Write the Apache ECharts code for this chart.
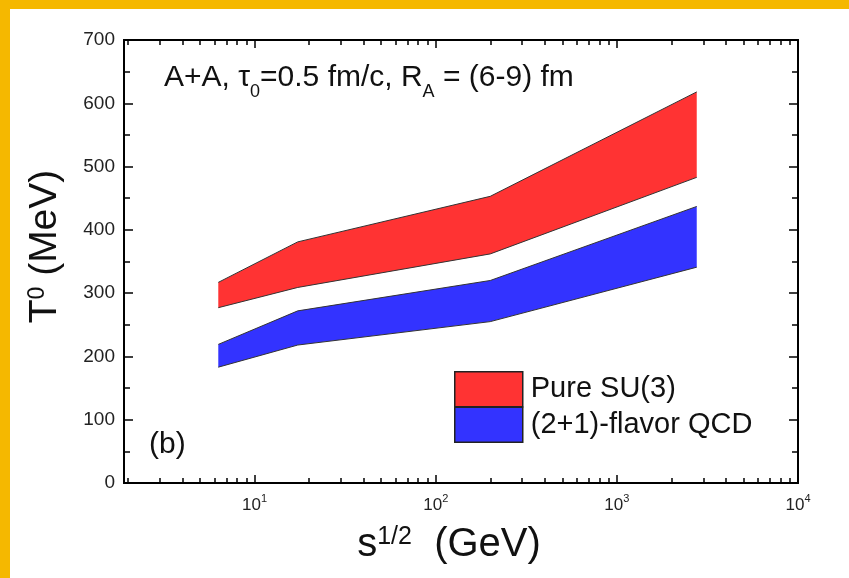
<!DOCTYPE html>
<html>
<head>
<meta charset="utf-8">
<script src="https://cdn.jsdelivr.net/npm/echarts@6/dist/echarts.min.js"></script>
<style>
html,body{margin:0;padding:0;background:#fff;}
#chart{width:849px;height:578px;}
</style>
</head>
<body>
<div id="chart"></div>
<script>
// ---- data ----
const energies = [6.3, 17.3, 200, 2760];          // sqrt(s) in GeV
const su3Upper = [317, 381, 453, 618];            // Pure SU(3) band, upper edge (MeV)
const su3Lower = [277, 309, 362, 483];            // Pure SU(3) band, lower edge
const qcdUpper = [219, 272, 320, 437];            // (2+1)-flavor QCD band, upper edge
const qcdLower = [183, 218, 255, 341];            // (2+1)-flavor QCD band, lower edge
const xMajorTicks = [10, 100, 1000, 10000];
const xMinorTicks = [2,3,4,5,6,7,8,9,20,30,40,50,60,70,80,90,200,300,400,500,600,700,800,900,2000,3000,4000,5000,6000,7000,8000,9000];
const seriesNames = ['Pure SU(3)', '(2+1)-flavor QCD'];
const seriesColors = ['#FF3333', '#3333FF'];

const FONT = '"Liberation Sans", Arial, Helvetica, sans-serif';
const chart = echarts.init(document.getElementById('chart'));

function band(name, upper, lower, color) {
  return {
    type: 'custom',
    name: name,
    xAxisIndex: 0, yAxisIndex: 0,
    data: energies.map((e, i) => [e, upper[i], lower[i]]),
    encode: {x: 0, y: [1, 2]},
    itemStyle: {color: color},
    silent: true,
    renderItem: function (params, api) {
      if (params.dataIndex !== 0) return null;
      const up = energies.map((e, i) => api.coord([e, upper[i]]));
      const lo = energies.map((e, i) => api.coord([e, lower[i]]));
      const poly = up.concat(lo.slice().reverse());
      return {
        type: 'group',
        children: [
          {type: 'polygon', shape: {points: poly}, style: {fill: color, stroke: null}},
          {type: 'polyline', shape: {points: up}, style: {stroke: '#333', lineWidth: 1, fill: null}},
          {type: 'polyline', shape: {points: lo}, style: {stroke: '#333', lineWidth: 1, fill: null}}
        ]
      };
    }
  };
}

const axisLineStyle = {show: true, lineStyle: {color: '#000', width: 2}};
function xAxisDef(position, ticks, len, withLabels) {
  return {
    type: 'log', logBase: 10, position: position,
    min: 1.9, max: 10000,
    axisLine: axisLineStyle,
    axisTick: {show: true, inside: true, length: len, customValues: ticks, lineStyle: {color: '#000', width: 1.5}},
    axisLabel: withLabels ? {
      show: true, customValues: xMajorTicks, margin: 10,
      formatter: function (v) { return '{m|10}{s|' + Math.round(Math.log10(v)) + '}'; },
      rich: {
        m: {fontFamily: FONT, fontSize: 17, color: '#222', lineHeight: 20, verticalAlign: 'top', padding: [4, 0, 0, 0]},
        s: {fontFamily: FONT, fontSize: 11, color: '#222', lineHeight: 12, verticalAlign: 'top'}
      }
    } : {show: false},
    splitLine: {show: false},
    minorTick: {show: false}
  };
}
function yAxisDef(position, withLabels) {
  return {
    type: 'value', position: position,
    min: 0, max: 700, interval: 100,
    axisLine: axisLineStyle,
    axisTick: {show: true, inside: true, length: 9, lineStyle: {color: '#000', width: 1.5}},
    minorTick: {show: true, splitNumber: 2, length: 6, lineStyle: {color: '#000', width: 1.5}},
    axisLabel: withLabels ? {show: true, margin: 9, fontFamily: FONT, fontSize: 19, color: '#222'} : {show: false},
    splitLine: {show: false}
  };
}

const xAxes = [
  xAxisDef('bottom', xMajorTicks, 8, true),
  xAxisDef('bottom', xMinorTicks, 5, false),
  xAxisDef('top', xMajorTicks, 8, false),
  xAxisDef('top', xMinorTicks, 5, false)
];
xAxes[0].name = '{m|s}{s|1/2}{m|  (GeV)}';
xAxes[0].nameLocation = 'middle';
xAxes[0].nameGap = 42;
xAxes[0].nameTextStyle = {
  padding: [0, 24, 0, 0],
  rich: {
    m: {fontFamily: FONT, fontSize: 40, color: '#111', lineHeight: 46, verticalAlign: 'top'},
    s: {fontFamily: FONT, fontSize: 25, color: '#111', lineHeight: 26, verticalAlign: 'top'}
  }
};
const yAxes = [yAxisDef('left', true), yAxisDef('right', false)];
yAxes[0].name = '{m|T}{s|0}{m| (MeV)}';
yAxes[0].nameLocation = 'middle';
yAxes[0].nameGap = 52;
yAxes[0].nameTextStyle = {
  padding: [0, 0, 0, 30],
  rich: {
    m: {fontFamily: FONT, fontSize: 39, color: '#111', lineHeight: 46, verticalAlign: 'top'},
    s: {fontFamily: FONT, fontSize: 23, color: '#111', lineHeight: 24, verticalAlign: 'top'}
  }
};
xAxes.forEach(a => a.z = 10);
yAxes.forEach(a => a.z = 10);

const option = {
  backgroundColor: '#fff',
  animation: false,
  grid: {left: 124, right: 51, top: 40, bottom: 95, containLabel: false},
  xAxis: xAxes,
  yAxis: yAxes,
  legend: {
    data: seriesNames,
    orient: 'vertical',
    left: 454, top: 371,
    padding: 0,
    icon: 'rect',
    itemWidth: 68, itemHeight: 35, itemGap: -1,
    itemStyle: {borderColor: '#222', borderWidth: 1.5},
    textStyle: {fontFamily: FONT, fontSize: 29, color: '#111', lineHeight: 30, padding: [0, 0, 0, 3]},
    selectedMode: false
  },
  graphic: [
    {type: 'rect', left: 0, top: 0, shape: {width: 849, height: 9}, style: {fill: '#F5B800'}, silent: true},
    {type: 'rect', left: 0, top: 0, shape: {width: 10, height: 578}, style: {fill: '#F5B800'}, silent: true},
    {
      type: 'text', left: 164, top: 63, silent: true,
      style: {
        text: '{m|A+A, τ}{b|0}{m|=0.5 fm/c, R}{b|A}{m| = (6-9) fm}',
        rich: {
          m: {fontFamily: FONT, fontSize: 30, fill: '#111', lineHeight: 34, verticalAlign: 'top'},
          b: {fontFamily: FONT, fontSize: 18, fill: '#111', lineHeight: 18, verticalAlign: 'top', padding: [20, 0, 0, 0]}
        }
      }
    },
    {
      type: 'text', left: 149, top: 430, silent: true,
      style: {text: '(b)', fontFamily: FONT, fontSize: 30, fill: '#111'}
    }
  ],
  series: [
    band(seriesNames[0], su3Upper, su3Lower, seriesColors[0]),
    band(seriesNames[1], qcdUpper, qcdLower, seriesColors[1])
  ]
};
chart.setOption(option);
</script>
</body>
</html>
